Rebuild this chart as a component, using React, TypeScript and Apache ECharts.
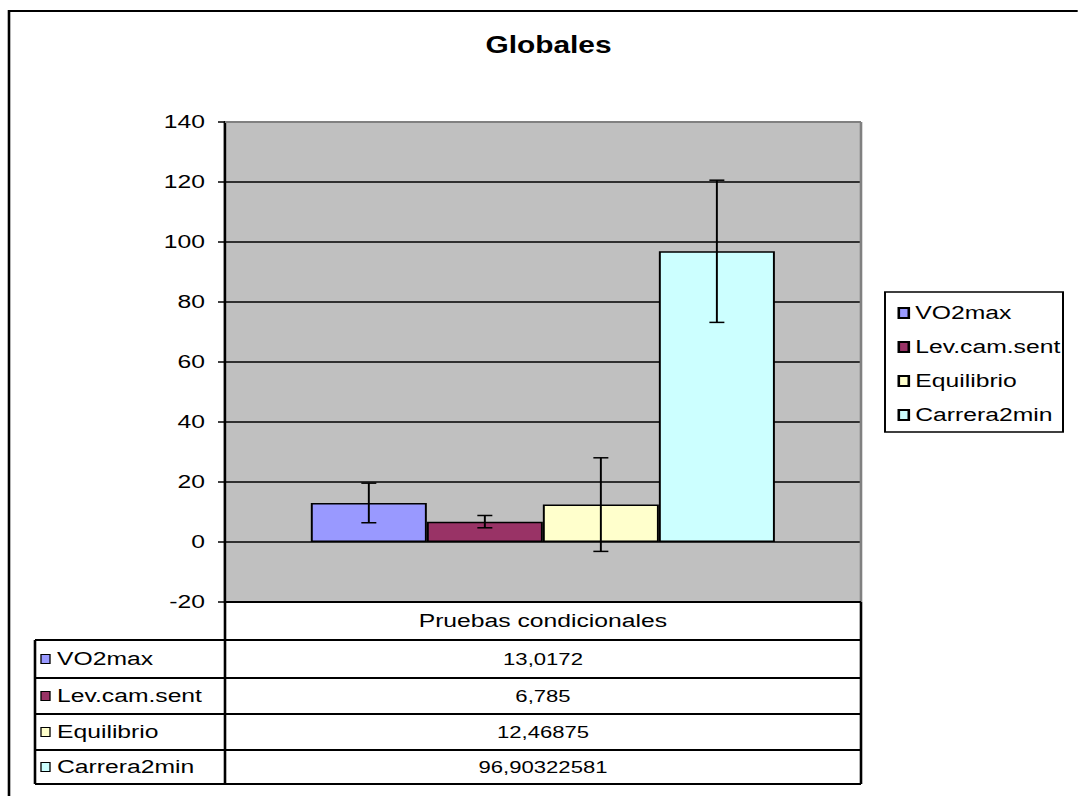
import React, { useEffect, useRef } from 'react';
import * as echarts from 'echarts';

// The reference picture is horizontally stretched; the chart is drawn in a
// narrower box and stretched back with a CSS scaleX.
const SX = 1.3;
const PAGE_W = 1078;
const PAGE_H = 796;
const CHART_W = PAGE_W / SX;
const X = (px: number) => px / SX;

const FONT = "'Liberation Sans', Arial, sans-serif";

const categories = ['Pruebas condicionales'];
const seriesNames = ['VO2max', 'Lev.cam.sent', 'Equilibrio', 'Carrera2min'];
const seriesValues = [13.0172, 6.785, 12.46875, 96.90322581];
const errorValues = [6.6, 2.05, 15.6, 23.7];
const seriesColors = ['#9999FF', '#993366', '#FFFFCC', '#CCFFFF'];
const yMin = -20;
const yMax = 140;
const yInterval = 20;

const CAT_GAP = 0.27;

export default function App() {
  const ref = useRef<HTMLDivElement>(null);

  useEffect(() => {
    const chart = echarts.init(ref.current!, null, { renderer: 'svg' });

    const lineStyle = { stroke: '#000', lineWidth: 1.5 };

    const barSeries = seriesNames.map((name, i) => ({
      name,
      type: 'bar',
      data: [seriesValues[i]],
      barGap: '0%',
      barCategoryGap: `${CAT_GAP * 100}%`,
      itemStyle: { color: seriesColors[i], borderColor: '#000', borderWidth: 1.5 },
      z: 2,
    }));

    const errSeries = {
      name: 'err',
      type: 'custom',
      z: 5,
      data: seriesValues.map((v, i) => [0, v - errorValues[i], v + errorValues[i]]),
      encode: { x: 0, y: [1, 2] },
      renderItem: (params: any, api: any) => {
        const i = params.dataIndex;
        const lo = api.value(1);
        const hi = api.value(2);
        const base = api.coord([0, 0]);
        const band = api.size([1, 0])[0];
        const groupW = band * (1 - CAT_GAP);
        const barW = groupW / seriesNames.length;
        const cx = base[0] - groupW / 2 + barW * (i + 0.5);
        const yHi = api.coord([0, hi])[1];
        const yLo = api.coord([0, lo])[1];
        const cap = X(7.5);
        return {
          type: 'group',
          children: [
            { type: 'line', shape: { x1: cx, y1: yHi, x2: cx, y2: yLo }, style: lineStyle },
            { type: 'line', shape: { x1: cx - cap, y1: yHi, x2: cx + cap, y2: yHi }, style: lineStyle },
            { type: 'line', shape: { x1: cx - cap, y1: yLo, x2: cx + cap, y2: yLo }, style: lineStyle },
          ],
        };
      },
    };

    // table geometry (page coordinates)
    const tLeft = 35, tCol = 225, tRight = 861;
    const tTop = 602, tHeadBottom = 640;
    const rowLines = [640, 678, 714, 750, 784];
    const tBottom = 784;

    const graphics: any[] = [];
    // outer chart border
    graphics.push({
      type: 'rect',
      shape: { x: X(9), y: 11, width: 2000, height: 2000 },
      style: { fill: 'none', stroke: '#000', lineWidth: 2 },
      silent: true,
      z: 1,
    });
    // plot area grey border top / right
    graphics.push({
      type: 'line',
      shape: { x1: X(225), y1: 122, x2: X(861), y2: 122 },
      style: { stroke: '#808080', lineWidth: 2 },
      z: 10,
    });
    graphics.push({
      type: 'line',
      shape: { x1: X(861), y1: 122, x2: X(861), y2: 602 },
      style: { stroke: '#808080', lineWidth: 2 },
      z: 10,
    });
    // table lines
    const tl = (x1: number, y1: number, x2: number, y2: number) =>
      graphics.push({
        type: 'line',
        shape: { x1: X(x1), y1, x2: X(x2), y2 },
        style: { stroke: '#000', lineWidth: 2 },
        z: 10,
      });
    tl(tCol, tTop, tRight, tTop);
    tl(tCol, tTop, tCol, tBottom);
    tl(tRight, tTop, tRight, tBottom);
    tl(tLeft, tHeadBottom, tLeft, tBottom);
    rowLines.forEach((y) => tl(tLeft, y, tRight, y));
    // table rows
    seriesNames.forEach((name, i) => {
      const cy = (rowLines[i] + rowLines[i + 1]) / 2;
      graphics.push({
        type: 'rect',
        shape: { x: X(41), y: cy - 4.5, width: X(9), height: 9 },
        style: { fill: seriesColors[i], stroke: '#000', lineWidth: 1 },
        z: 10,
      });
      graphics.push({
        type: 'text',
        x: X(57),
        y: cy,
        style: { text: name, font: `19px ${FONT}`, fill: '#000', verticalAlign: 'middle', align: 'left' },
        z: 10,
      });
      graphics.push({
        type: 'text',
        x: X((tCol + tRight) / 2),
        y: cy,
        style: {
          text: String(seriesValues[i]).replace('.', ','),
          font: `17px ${FONT}`,
          fill: '#000',
          verticalAlign: 'middle',
          align: 'center',
        },
        z: 10,
      });
    });
    // legend box
    graphics.push({
      type: 'rect',
      shape: { x: X(885), y: 292, width: X(1063) - X(885), height: 140 },
      style: { fill: '#fff', stroke: '#000', lineWidth: 1.5 },
      z: 0,
    });

    const option: any = {
      animation: false,
      backgroundColor: '#fff',
      title: {
        text: 'Globales',
        left: X(542),
        textAlign: 'center',
        top: 29,
        textStyle: { fontFamily: FONT, fontSize: 23, fontWeight: 'bold', color: '#000' },
      },
      grid: {
        left: X(225),
        right: CHART_W - X(861),
        top: 122,
        bottom: PAGE_H - 602,
        show: true,
        backgroundColor: '#C0C0C0',
        borderWidth: 0,
      },
      legend: {
        data: seriesNames,
        orient: 'vertical',
        left: X(891),
        top: 298,
        itemWidth: X(10),
        itemHeight: 10,
        itemGap: 14,
        icon: 'rect',
        textStyle: { fontFamily: FONT, fontSize: 19, color: '#000', lineHeight: 20 },
        z: 5,
      },
      xAxis: {
        type: 'category',
        data: categories,
        axisLine: { show: false },
        axisTick: { show: false },
        axisLabel: { fontFamily: FONT, fontSize: 19, color: '#000', margin: 9 },
        splitLine: { show: false },
      },
      yAxis: {
        type: 'value',
        min: yMin,
        max: yMax,
        interval: yInterval,
        axisLine: { show: true, lineStyle: { color: '#000', width: 2 } },
        axisTick: { show: true, inside: false, length: X(7), lineStyle: { color: '#000', width: 1.5 } },
        axisLabel: { fontFamily: FONT, fontSize: 19, color: '#000', margin: X(20) },
        splitLine: { show: true, lineStyle: { color: '#000', width: 1.5 } },
      },
      series: [...barSeries, errSeries],
      graphic: { elements: graphics },
    };

    chart.setOption(option);
    return () => chart.dispose();
  }, []);

  return (
    <div
      style={{
        position: 'absolute',
        left: 0,
        top: 0,
        width: PAGE_W,
        height: PAGE_H,
        overflow: 'hidden',
        background: '#fff',
      }}
    >
      <div style={{ width: CHART_W, height: PAGE_H, transform: `scaleX(${SX})`, transformOrigin: '0 0' }}>
        <div ref={ref} style={{ width: CHART_W, height: PAGE_H }} />
      </div>
    </div>
  );
}
